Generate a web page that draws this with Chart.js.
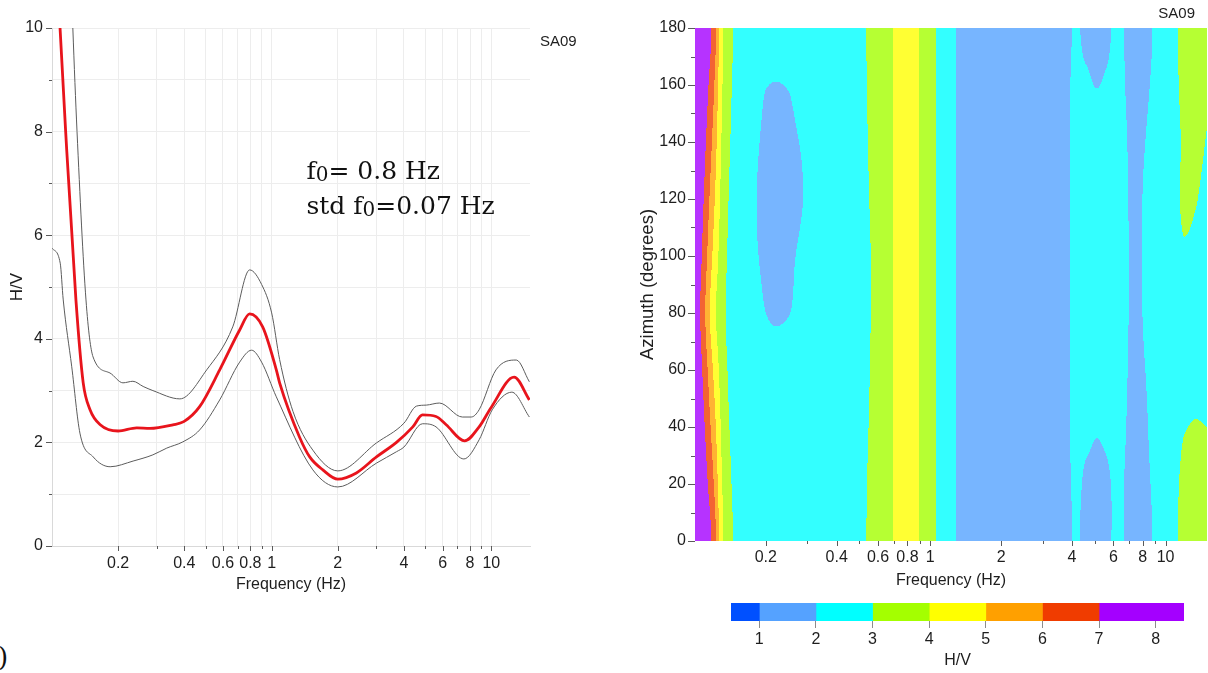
<!DOCTYPE html>
<html>
<head>
<meta charset="utf-8">
<script src="https://cdn.jsdelivr.net/npm/chart.js@4.4.1/dist/chart.umd.min.js"></script>
<style>
  body { margin: 0; background: #fff; width: 1208px; height: 673px; position: relative; overflow: hidden; }
  canvas { position: absolute; }
  #panel { position: absolute; left: -2px; top: 642px; font: 26px "DejaVu Serif", serif; color: #111; }
</style>
</head>
<body>
<canvas id="hv" width="610" height="610" style="left:0;top:0"></canvas>
<canvas id="azimuth" width="588" height="600" style="left:620px;top:0"></canvas>
<canvas id="colorbar" width="508" height="83" style="left:700px;top:590px"></canvas>
<div id="panel">)</div>
<script>
// H/V spectral ratio, mean curve and mean ± one standard deviation
const meanFreq = [0.105, 0.1088, 0.1154, 0.1285, 0.1387, 0.149, 0.1658, 0.2, 0.243, 0.279, 0.355, 0.398, 0.47, 0.58, 0.715, 0.794, 0.91, 1.05, 1.087, 1.34, 1.49, 1.71, 2.0, 2.43, 3.0, 3.7, 4.39, 4.86, 5.6, 6.23, 7.55, 8.8, 10.0, 12.7, 14.9];
const meanHV = [11.3, 10.0, 8.0, 4.75, 3.15, 2.63, 2.34, 2.22, 2.28, 2.27, 2.34, 2.4, 2.69, 3.4, 4.17, 4.48, 4.23, 3.4, 3.15, 2.1, 1.72, 1.47, 1.29, 1.41, 1.72, 2.0, 2.3, 2.53, 2.5, 2.34, 2.03, 2.3, 2.68, 3.26, 2.82];

const upperFreq = [0.121, 0.1244, 0.130, 0.1428, 0.1538, 0.1836, 0.2104, 0.2335, 0.26, 0.288, 0.382, 0.506, 0.665, 0.794, 0.9, 1.0, 1.087, 1.25, 1.54, 2.0, 3.0, 4.0, 4.56, 5.06, 5.8, 7.38, 8.1, 8.8, 10.5, 13.0, 14.9];
const upperHV = [11.5, 10.0, 8.0, 4.75, 3.65, 3.34, 3.15, 3.18, 3.08, 3.0, 2.84, 3.4, 4.23, 5.33, 5.05, 4.5, 3.6, 2.6, 1.85, 1.45, 1.99, 2.37, 2.70, 2.72, 2.76, 2.49, 2.49, 2.63, 3.4, 3.59, 3.17];

const lowerFreq = [0.1, 0.109, 0.1125, 0.123, 0.134, 0.154, 0.184, 0.234, 0.288, 0.333, 0.394, 0.47, 0.58, 0.715, 0.81, 0.9, 1.05, 1.54, 2.0, 3.0, 3.7, 4.0, 4.86, 5.6, 7.5, 8.8, 10.1, 12.4, 14.9];
const lowerHV = [5.75, 5.46, 4.75, 3.46, 2.18, 1.72, 1.53, 1.64, 1.76, 1.89, 2.01, 2.24, 2.82, 3.55, 3.78, 3.55, 2.88, 1.47, 1.14, 1.6, 1.82, 1.91, 2.36, 2.3, 1.68, 2.05, 2.63, 2.97, 2.49];

const peakFreq = 0.8;
const peakStd = 0.07;
const siteName = 'SA09';

// axis ticks
const freqTicks = [0.2, 0.3, 0.4, 0.5, 0.6, 0.7, 0.8, 0.9, 1, 2, 3, 4, 5, 6, 7, 8, 9, 10];
const freqLabels = [0.2, 0.4, 0.6, 0.8, 1, 2, 4, 6, 8, 10];
const hvTicks = [0, 1, 2, 3, 4, 5, 6, 7, 8, 9, 10];
const hvLabels = [0, 2, 4, 6, 8, 10];
const azTicks = [0, 10, 20, 30, 40, 50, 60, 70, 80, 90, 100, 110, 120, 130, 140, 150, 160, 170, 180];
const azLabels = [0, 20, 40, 60, 80, 100, 120, 140, 160, 180];

// H/V as a function of frequency (columns) and azimuth (rows)
const gridFreqs = [0.1, 0.11, 0.12, 0.13, 0.14, 0.16, 0.18, 0.2, 0.22, 0.25, 0.28, 0.32, 0.4, 0.5, 0.55, 0.6, 0.7, 0.8, 0.9, 1.0, 1.1, 1.2, 1.4, 2, 3, 3.8, 4.2, 4.6, 5.1, 5.6, 6.2, 6.8, 7.4, 8.2, 9, 10, 11, 12, 13.5, 15];
const azimuths = [0, 20, 40, 60, 80, 100, 120, 140, 160, 180];
const hvAz0 = [9.0, 7.9, 6.6, 4.3, 3.25, 2.6, 2.42, 2.4, 2.4, 2.42, 2.45, 2.5, 2.6, 2.8, 3.1, 3.4, 4.02, 4.5, 3.95, 3.45, 2.72, 2.3, 1.7, 1.4, 1.6, 1.9, 2.05, 1.85, 1.8, 1.85, 2.15, 1.95, 1.85, 1.9, 2.05, 2.5, 2.9, 3.2, 3.3, 3.3];
const hvAz20 = [8.75, 7.45, 6.03, 4.06, 3.13, 2.56, 2.42, 2.4, 2.4, 2.42, 2.45, 2.5, 2.6, 2.8, 3.07, 3.4, 4.02, 4.5, 3.95, 3.45, 2.72, 2.3, 1.7, 1.4, 1.6, 1.9, 2.1, 1.9, 1.85, 1.9, 2.12, 1.96, 1.86, 1.92, 2.1, 2.5, 2.88, 3.12, 3.2, 3.2];
const hvAz40 = [8.5, 7.0, 5.45, 3.83, 3.0, 2.53, 2.42, 2.4, 2.4, 2.42, 2.45, 2.5, 2.6, 2.8, 3.02, 3.4, 4.02, 4.5, 3.95, 3.45, 2.72, 2.3, 1.7, 1.4, 1.6, 1.9, 2.2, 2.15, 2.05, 2.12, 2.25, 2.0, 1.88, 1.95, 2.2, 2.5, 2.8, 2.98, 3.02, 3.0];
const hvAz60 = [8.25, 6.55, 4.88, 3.59, 2.88, 2.49, 2.42, 2.4, 2.4, 2.42, 2.45, 2.5, 2.6, 2.8, 2.98, 3.4, 4.02, 4.5, 3.95, 3.45, 2.72, 2.3, 1.7, 1.4, 1.6, 1.9, 2.2, 2.35, 2.4, 2.35, 2.28, 2.03, 1.9, 2.0, 2.25, 2.5, 2.75, 2.85, 2.9, 2.85];
const hvAz80 = [8.0, 6.1, 4.3, 3.35, 2.75, 2.45, 2.3, 2.0, 1.9, 1.98, 2.2, 2.4, 2.6, 2.8, 2.95, 3.4, 4.02, 4.5, 3.95, 3.45, 2.72, 2.3, 1.7, 1.4, 1.6, 1.9, 2.2, 2.35, 2.4, 2.35, 2.3, 2.05, 1.92, 2.05, 2.3, 2.55, 2.7, 2.8, 2.8, 2.7];
const hvAz100 = [8.2, 6.46, 4.76, 3.54, 2.85, 2.48, 2.1, 1.85, 1.82, 1.9, 2.08, 2.3, 2.6, 2.8, 2.95, 3.4, 4.02, 4.5, 3.95, 3.45, 2.72, 2.3, 1.7, 1.4, 1.6, 1.9, 2.2, 2.35, 2.4, 2.35, 2.3, 2.05, 1.92, 2.05, 2.3, 2.55, 2.78, 2.95, 2.9, 2.7];
const hvAz120 = [8.4, 6.82, 5.22, 3.73, 2.95, 2.51, 2.05, 1.75, 1.7, 1.75, 1.95, 2.2, 2.6, 2.8, 3.0, 3.4, 4.02, 4.5, 3.95, 3.45, 2.72, 2.3, 1.7, 1.4, 1.6, 1.9, 2.2, 2.35, 2.4, 2.35, 2.28, 2.04, 1.92, 2.05, 2.3, 2.55, 2.85, 3.08, 3.02, 2.75];
const hvAz140 = [8.6, 7.18, 5.68, 3.92, 3.05, 2.54, 2.15, 1.85, 1.8, 1.85, 2.02, 2.25, 2.6, 2.8, 3.04, 3.4, 4.02, 4.5, 3.95, 3.45, 2.72, 2.3, 1.7, 1.4, 1.6, 1.9, 2.2, 2.35, 2.4, 2.35, 2.25, 2.02, 1.9, 2.0, 2.2, 2.5, 2.82, 3.08, 3.2, 2.95];
const hvAz160 = [8.8, 7.54, 6.14, 4.11, 3.15, 2.57, 2.35, 2.02, 1.98, 2.03, 2.25, 2.4, 2.6, 2.8, 3.08, 3.4, 4.02, 4.5, 3.95, 3.45, 2.72, 2.3, 1.7, 1.4, 1.6, 1.9, 2.15, 2.1, 1.98, 2.08, 2.2, 1.98, 1.87, 1.94, 2.1, 2.5, 2.88, 3.15, 3.3, 3.15];
const hvAz180 = hvAz0.slice();
const hvGrid = [hvAz0, hvAz20, hvAz40, hvAz60, hvAz80, hvAz100, hvAz120, hvAz140, hvAz160, hvAz180];

// colour scale
const levelEdges = [1, 2, 3, 4, 5, 6, 7];
const barEdges = [0.5, 1, 2, 3, 4, 5, 6, 7, 8.5];
const barTicks = [1, 2, 3, 4, 5, 6, 7, 8];
const bandColors = ['#0050ff', '#55a2ff', '#00ffff', '#a4ff00', '#ffff00', '#ffa000', '#f03c00', '#a400ff'];

Chart.defaults.font.family = '"Liberation Sans", Arial, sans-serif';
Chart.defaults.font.size = 16;
Chart.defaults.color = '#1e1e1e';

const toPoints = (xs, ys) => xs.map((x, i) => ({ x, y: ys[i] }));
const setTicks = values => scale => { scale.ticks = values.map(v => ({ value: v })); };
const labelIf = list => v => list.includes(v) ? String(v) : '';

// short tick marks outside the plot area
const tickMarks = {
  id: 'tickMarks',
  afterDraw(chart, args, opts) {
    const ctx = chart.ctx;
    const area = chart.chartArea;
    ctx.save();
    ctx.strokeStyle = opts.color;
    ctx.lineWidth = 1;
    opts.marks.forEach(m => {
      const scale = chart.scales[m.axis];
      m.values.forEach(v => {
        const p = Math.round(scale.getPixelForValue(v)) + 0.5;
        ctx.beginPath();
        if (scale.isHorizontal()) {
          ctx.moveTo(p, area.bottom);
          ctx.lineTo(p, area.bottom + m.len);
        } else {
          ctx.moveTo(area.left, p);
          ctx.lineTo(area.left - m.len, p);
        }
        ctx.stroke();
      });
    });
    ctx.restore();
  }
};

const siteLabel = {
  id: 'siteLabel',
  afterDraw(chart, args, opts) {
    const ctx = chart.ctx;
    ctx.save();
    ctx.font = '15px "Liberation Sans", Arial, sans-serif';
    ctx.fillStyle = '#1e1e1e';
    ctx.textAlign = opts.align;
    ctx.textBaseline = 'middle';
    ctx.fillText(siteName, chart.chartArea.right + opts.dx, chart.chartArea.top + opts.dy);
    ctx.restore();
  }
};

// f0 and its standard deviation written inside the H/V plot
const peakNote = {
  id: 'peakNote',
  afterDraw(chart) {
    const ctx = chart.ctx;
    const x = chart.scales.x.getPixelForValue(1.44);
    const lines = [
      [['f', false], ['0', true], ['= ' + peakFreq + ' Hz', false]],
      [['std f', false], ['0', true], ['=' + peakStd + ' Hz', false]]
    ];
    const base = [chart.scales.y.getPixelForValue(7.08), chart.scales.y.getPixelForValue(6.4)];
    ctx.save();
    ctx.fillStyle = '#111';
    ctx.textBaseline = 'alphabetic';
    lines.forEach((parts, i) => {
      let cx = x;
      parts.forEach(([txt, sub]) => {
        ctx.font = (sub ? '20px' : '25px') + ' "DejaVu Serif", serif';
        ctx.fillText(txt, cx, base[i] + (sub ? 2 : 0));
        cx += ctx.measureText(txt).width;
      });
    });
    ctx.restore();
  }
};

// filled contours of H/V over frequency and azimuth
const fadeColor = (hex, k) => {
  const n = parseInt(hex.slice(1), 16);
  return [(n >> 16) & 255, (n >> 8) & 255, n & 255].map(c => Math.round(c * k + 255 * (1 - k)));
};
const mapColors = bandColors.map(c => fadeColor(c, 0.8));

function levelIndex(v) {
  let k = 0;
  while (k < levelEdges.length && v >= levelEdges[k]) k++;
  return k;
}

// monotone (Fritsch-Carlson style) slopes for one row along log frequency
function pchipSlopes(x, y) {
  const n = x.length;
  const h = [], d = [];
  for (let k = 0; k < n - 1; k++) {
    h.push(x[k + 1] - x[k]);
    d.push((y[k + 1] - y[k]) / h[k]);
  }
  const m = new Array(n);
  m[0] = d[0];
  m[n - 1] = d[n - 2];
  for (let k = 1; k < n - 1; k++) {
    if (d[k - 1] * d[k] <= 0) { m[k] = 0; continue; }
    const w1 = 2 * h[k] + h[k - 1], w2 = h[k] + 2 * h[k - 1];
    m[k] = (w1 + w2) / (w1 / d[k - 1] + w2 / d[k]);
  }
  return m;
}

const contourFill = {
  id: 'contourFill',
  beforeDatasetsDraw(chart) {
    const area = chart.chartArea;
    const xs = chart.scales.x, ys = chart.scales.y;
    const w = Math.round(area.right - area.left);
    const h = Math.round(area.bottom - area.top);
    const off = document.createElement('canvas');
    off.width = w;
    off.height = h;
    const octx = off.getContext('2d');
    const img = octx.createImageData(w, h);
    const logF = gridFreqs.map(Math.log10);
    const nRows = azimuths.length - 1; // 0 and 180 degrees are the same direction
    const step = azimuths[1] - azimuths[0];
    const rows = hvGrid.slice(0, nRows);
    const slopes = rows.map(row => pchipSlopes(logF, row));

    // values of every azimuth row at each pixel column
    const cols = [];
    for (let i = 0; i < w; i++) {
      const f = Math.min(Math.max(xs.getValueForPixel(area.left + i + 0.5), gridFreqs[0]), gridFreqs[gridFreqs.length - 1]);
      const lf = Math.log10(f);
      let k = 0;
      while (k < logF.length - 2 && lf > logF[k + 1]) k++;
      const dx = logF[k + 1] - logF[k];
      const t = (lf - logF[k]) / dx;
      const t2 = t * t, t3 = t2 * t;
      const a = 2 * t3 - 3 * t2 + 1, b = t3 - 2 * t2 + t, c = -2 * t3 + 3 * t2, e = t3 - t2;
      cols.push(rows.map((row, r) => a * row[k] + b * dx * slopes[r][k] + c * row[k + 1] + e * dx * slopes[r][k + 1]));
    }

    const idx = n => ((n % nRows) + nRows) % nRows;
    for (let j = 0; j < h; j++) {
      const az = Math.min(Math.max(ys.getValueForPixel(area.top + j + 0.5), 0), 180);
      const r = az / step;
      const k = Math.min(Math.floor(r), nRows - 1);
      const t = r - k;
      for (let i = 0; i < w; i++) {
        const c = cols[i];
        const p0 = c[idx(k - 1)], p1 = c[idx(k)], p2 = c[idx(k + 1)], p3 = c[idx(k + 2)];
        // Catmull-Rom across azimuth
        const v = 0.5 * ((2 * p1) + (-p0 + p2) * t + (2 * p0 - 5 * p1 + 4 * p2 - p3) * t * t + (-p0 + 3 * p1 - 3 * p2 + p3) * t * t * t);
        const col = mapColors[levelIndex(v)];
        const o = (j * w + i) * 4;
        img.data[o] = col[0];
        img.data[o + 1] = col[1];
        img.data[o + 2] = col[2];
        img.data[o + 3] = 255;
      }
    }
    octx.putImageData(img, 0, 0);
    chart.ctx.drawImage(off, Math.round(area.left), Math.round(area.top));
  }
};

// left: H/V curves
new Chart(document.getElementById('hv'), {
  type: 'line',
  data: {
    datasets: [
      { data: toPoints(meanFreq, meanHV), borderColor: '#e8141c', borderWidth: 2.8 },
      { data: toPoints(upperFreq, upperHV), borderColor: '#5c5c5c', borderWidth: 1 },
      { data: toPoints(lowerFreq, lowerHV), borderColor: '#5c5c5c', borderWidth: 1 }
    ]
  },
  options: {
    responsive: false,
    animation: false,
    layout: { padding: { top: 28, right: 80, left: 0, bottom: 0 } },
    elements: { point: { radius: 0 }, line: { cubicInterpolationMode: 'monotone', fill: false } },
    plugins: {
      legend: { display: false },
      tooltip: { enabled: false },
      tickMarks: {
        color: '#5a5a5a',
        marks: [
          { axis: 'x', values: freqLabels, len: 5 },
          { axis: 'x', values: freqTicks.filter(v => !freqLabels.includes(v)), len: 3 },
          { axis: 'y', values: hvLabels, len: 6 },
          { axis: 'y', values: hvTicks.filter(v => !hvLabels.includes(v)), len: 3 }
        ]
      },
      siteLabel: { align: 'left', dx: 10, dy: 14 }
    },
    scales: {
      x: {
        type: 'logarithmic', min: 0.1, max: 15,
        afterBuildTicks: setTicks(freqTicks),
        afterFit: s => { s.height = 64; },
        ticks: { autoSkip: false, maxRotation: 0, padding: 8, callback: labelIf(freqLabels) },
        grid: { color: '#ededed', drawTicks: false },
        border: { color: '#d9d9d9' },
        title: { display: true, text: 'Frequency (Hz)', padding: { top: 0, bottom: 16 } }
      },
      y: {
        min: 0, max: 10,
        afterBuildTicks: setTicks(hvTicks),
        afterFit: s => { s.width = 52; },
        ticks: { padding: 9, callback: labelIf(hvLabels) },
        grid: { color: '#ededed', drawTicks: false },
        border: { color: '#d9d9d9' },
        title: { display: true, text: 'H/V', font: { size: 17 }, padding: { top: 7, bottom: 0 } }
      }
    }
  },
  plugins: [tickMarks, siteLabel, peakNote]
});

// right: H/V against frequency and azimuth
new Chart(document.getElementById('azimuth'), {
  type: 'scatter',
  data: { datasets: [] },
  options: {
    responsive: false,
    animation: false,
    layout: { padding: { top: 28, right: 1, left: 0, bottom: 0 } },
    plugins: {
      legend: { display: false },
      tooltip: { enabled: false },
      tickMarks: {
        color: '#5a5a5a',
        marks: [
          { axis: 'x', values: freqLabels, len: 5 },
          { axis: 'x', values: freqTicks.filter(v => !freqLabels.includes(v)), len: 3 },
          { axis: 'y', values: azLabels, len: 7 },
          { axis: 'y', values: azTicks.filter(v => !azLabels.includes(v)), len: 4 }
        ]
      },
      siteLabel: { align: 'right', dx: -12, dy: -14 }
    },
    scales: {
      x: {
        type: 'logarithmic', min: 0.1, max: 15,
        afterBuildTicks: setTicks(freqTicks),
        afterFit: s => { s.height = 59; },
        ticks: { autoSkip: false, maxRotation: 0, padding: 7, callback: labelIf(freqLabels) },
        grid: { display: false, drawTicks: false },
        border: { display: false },
        title: { display: true, text: 'Frequency (Hz)', padding: { top: 0, bottom: 10 } }
      },
      y: {
        min: 0, max: 180,
        afterBuildTicks: setTicks(azTicks),
        afterFit: s => { s.width = 75; },
        ticks: { padding: 9, callback: labelIf(azLabels) },
        grid: { display: false, drawTicks: false },
        border: { display: false },
        title: { display: true, text: 'Azimuth (degrees)', font: { size: 18.5 }, padding: { top: 17, bottom: 0 } }
      }
    }
  },
  plugins: [contourFill, tickMarks, siteLabel]
});

// colour bar for the contour levels
new Chart(document.getElementById('colorbar'), {
  type: 'bar',
  data: {
    labels: ['H/V'],
    datasets: bandColors.map((c, i) => ({
      data: [[barEdges[i], barEdges[i + 1]]],
      backgroundColor: c,
      borderWidth: 0,
      barPercentage: 1,
      categoryPercentage: 1,
      grouped: false
    }))
  },
  options: {
    indexAxis: 'y',
    responsive: false,
    animation: false,
    layout: { padding: { top: 13, right: 24, left: 31, bottom: 0 } },
    plugins: { legend: { display: false }, tooltip: { enabled: false } },
    scales: {
      x: {
        min: 0.5, max: 8.5,
        afterBuildTicks: setTicks(barTicks),
        afterFit: s => { s.height = 52; },
        ticks: { padding: 2 },
        grid: { drawOnChartArea: false, tickLength: 7, tickColor: '#8c8c8c' },
        border: { display: false },
        title: { display: true, text: 'H/V', padding: { top: 0, bottom: 3 } }
      },
      y: { display: false }
    }
  }
});
</script>
</body>
</html>
